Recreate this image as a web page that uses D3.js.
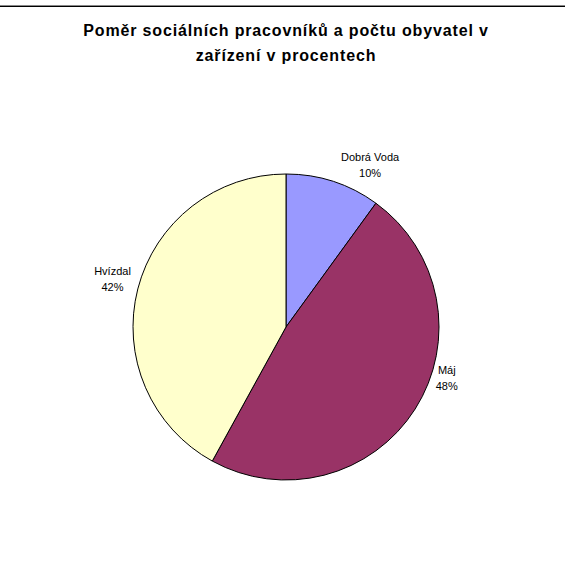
<!DOCTYPE html>
<html>
<head>
<meta charset="utf-8">
<script src="https://cdn.jsdelivr.net/npm/d3@7"></script>
<style>
  html, body { margin: 0; padding: 0; background: #fff; }
  svg { display: block; font-family: "Liberation Sans", Arial, sans-serif; }
</style>
</head>
<body>
<svg id="chart"></svg>
<script>
"use strict";

// =================== DATA ===================
const categories = ["Dobrá Voda", "Máj", "Hvízdal"];
const shares = [10, 48, 42];
const sliceColors = ["#9999FF", "#993366", "#FFFFCC"];
const titleLines = ["Poměr sociálních pracovníků a počtu obyvatel v", "zařízení v procentech"];

// =================== SETUP ===================
const W = 565, H = 563;
const cx = 286, cy = 327, R = 153;

const svg = d3.select("#chart").attr("width", W).attr("height", H);

// top frame edge
svg.append("line").attr("x1", 0).attr("x2", W).attr("y1", 5.5).attr("y2", 5.5)
  .attr("stroke", "#888").attr("stroke-width", 1);
svg.append("line").attr("x1", 0).attr("x2", W).attr("y1", 6.5).attr("y2", 6.5)
  .attr("stroke", "#000").attr("stroke-width", 1);

// title
titleLines.forEach((t, i) => {
  svg.append("text")
    .attr("x", 286).attr("y", 36 + i * 25)
    .attr("text-anchor", "middle")
    .style("font-size", "16px").style("font-weight", "700")
    .style("letter-spacing", "0.85px")
    .text(t);
});

// =================== PIE ===================
const pie = d3.pie().sort(null).value(d => d.value);
const arcs = pie(categories.map((c, i) => ({ name: c, value: shares[i], color: sliceColors[i] })));
const arc = d3.arc().innerRadius(0).outerRadius(R);
const labelArc = d3.arc().innerRadius(175).outerRadius(175);

const g = svg.append("g").attr("transform", `translate(${cx},${cy})`);

g.selectAll("path.slice")
  .data(arcs)
  .enter()
  .append("path")
  .attr("class", "slice")
  .attr("d", arc)
  .attr("fill", d => d.data.color)
  .attr("stroke", "#000")
  .attr("stroke-width", 1);

// label nudges (Excel "best fit" placement)
const labelNudge = [[30, 4], [13, -43], [-4, -4]];

const total = d3.sum(shares);
const lbl = g.selectAll("g.label")
  .data(arcs)
  .enter()
  .append("g")
  .attr("class", "label")
  .attr("transform", (d, i) => {
    const [x, y] = labelArc.centroid(d);
    return `translate(${x + labelNudge[i][0]},${y + labelNudge[i][1]})`;
  })
  .style("font-size", "11px")
  .attr("text-anchor", "middle");

lbl.append("text").attr("y", -4).text(d => d.data.name);
lbl.append("text").attr("y", 12).text(d => Math.round(d.data.value / total * 100) + "%");
</script>
</body>
</html>
